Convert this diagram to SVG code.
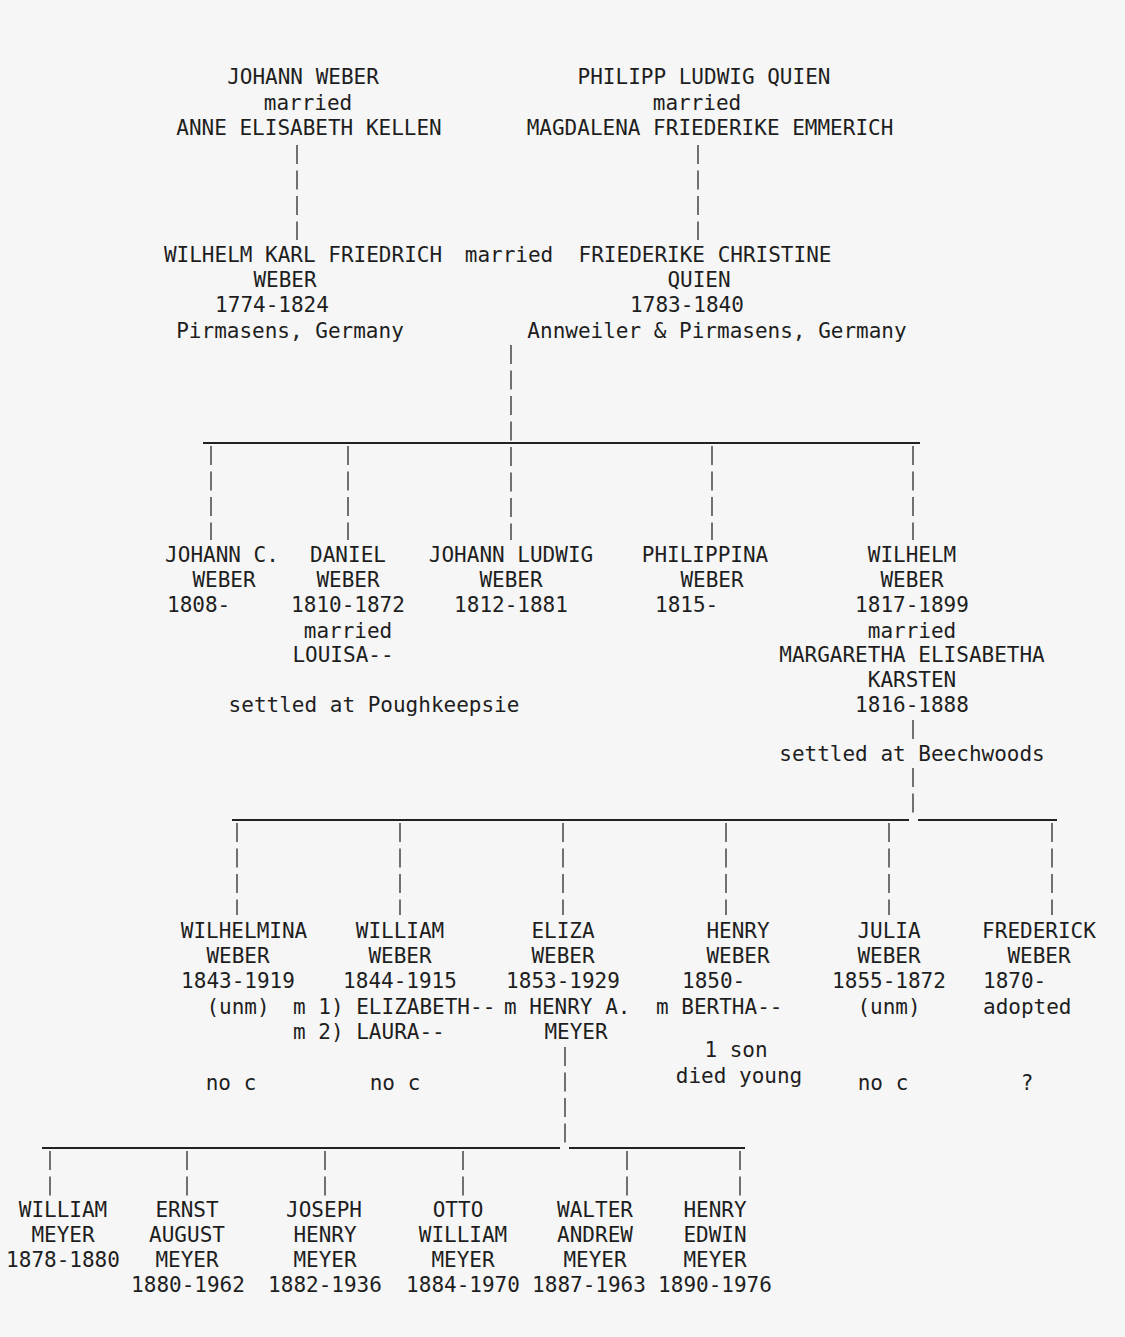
<svg xmlns="http://www.w3.org/2000/svg" width="1125" height="1337" viewBox="0 0 1125 1337">
<style>
text{font-family:"DejaVu Sans Mono","Liberation Mono",monospace;font-size:21px;fill:#1e1e1e;text-anchor:middle}
.s{text-anchor:start}
.v{stroke:#2a2a2a;stroke-width:1.3;stroke-dasharray:19 6.5;fill:none}
.h{stroke:#222;stroke-width:2;fill:none}
</style>
<rect width="1125" height="1337" fill="#f6f6f6"/>
<g id="connectors">
<line class="v" x1="297" y1="145" x2="297" y2="240"/>
<line class="v" x1="698" y1="145" x2="698" y2="240"/>
<line class="v" x1="511" y1="345" x2="511" y2="540"/>
<line class="h" x1="203" y1="443" x2="920" y2="443"/>
<line class="v" x1="211" y1="446" x2="211" y2="540"/>
<line class="v" x1="348" y1="446" x2="348" y2="540"/>
<line class="v" x1="712" y1="446" x2="712" y2="540"/>
<line class="v" x1="913" y1="446" x2="913" y2="540"/>
<line class="v" x1="913" y1="720" x2="913" y2="740"/>
<line class="v" x1="913" y1="768" x2="913" y2="815"/>
<line class="h" x1="232" y1="820" x2="909" y2="820"/>
<line class="h" x1="918" y1="820" x2="1057" y2="820"/>
<line class="v" x1="237" y1="823" x2="237" y2="915"/>
<line class="v" x1="400" y1="823" x2="400" y2="915"/>
<line class="v" x1="563" y1="823" x2="563" y2="915"/>
<line class="v" x1="726" y1="823" x2="726" y2="915"/>
<line class="v" x1="889" y1="823" x2="889" y2="915"/>
<line class="v" x1="1052" y1="823" x2="1052" y2="915"/>
<line class="v" x1="565" y1="1047" x2="565" y2="1145"/>
<line class="h" x1="42" y1="1148" x2="560" y2="1148"/>
<line class="h" x1="569" y1="1148" x2="745" y2="1148"/>
<line class="v" x1="50" y1="1151" x2="50" y2="1196"/>
<line class="v" x1="187" y1="1151" x2="187" y2="1196"/>
<line class="v" x1="325" y1="1151" x2="325" y2="1196"/>
<line class="v" x1="463" y1="1151" x2="463" y2="1196"/>
<line class="v" x1="627" y1="1151" x2="627" y2="1196"/>
<line class="v" x1="740" y1="1151" x2="740" y2="1196"/>
</g>
<g id="johann-weber-couple">
<text x="303" y="84">JOHANN WEBER</text>
<text x="308" y="110">married</text>
<text x="309" y="135">ANNE ELISABETH KELLEN</text>
</g>
<g id="quien-couple">
<text x="704" y="84">PHILIPP LUDWIG QUIEN</text>
<text x="697" y="110">married</text>
<text x="710" y="135">MAGDALENA FRIEDERIKE EMMERICH</text>
</g>
<g id="wilhelm-karl-friedrich">
<text x="303" y="262">WILHELM KARL FRIEDRICH</text>
<text x="285" y="287">WEBER</text>
<text x="272" y="312">1774-1824</text>
<text x="290" y="338">Pirmasens, Germany</text>
</g>
<g id="marriage-label">
<text x="509" y="262">married</text>
</g>
<g id="friederike-christine">
<text x="705" y="262">FRIEDERIKE CHRISTINE</text>
<text x="699" y="287">QUIEN</text>
<text x="687" y="312">1783-1840</text>
<text x="717" y="338">Annweiler &amp; Pirmasens, Germany</text>
</g>
<g id="johann-c">
<text x="222" y="562">JOHANN C.</text>
<text x="224" y="587">WEBER</text>
<text class="s" x="167" y="612">1808-</text>
</g>
<g id="daniel">
<text x="348" y="562">DANIEL</text>
<text x="348" y="587">WEBER</text>
<text x="348" y="612">1810-1872</text>
<text x="348" y="638">married</text>
<text x="343" y="662">LOUISA--</text>
<text x="374" y="712">settled at Poughkeepsie</text>
</g>
<g id="johann-ludwig">
<text x="511" y="562">JOHANN LUDWIG</text>
<text x="511" y="587">WEBER</text>
<text x="511" y="612">1812-1881</text>
</g>
<g id="philippina">
<text x="705" y="562">PHILIPPINA</text>
<text x="712" y="587">WEBER</text>
<text class="s" x="655" y="612">1815-</text>
</g>
<g id="wilhelm">
<text x="912" y="562">WILHELM</text>
<text x="912" y="587">WEBER</text>
<text x="912" y="612">1817-1899</text>
<text x="912" y="638">married</text>
<text x="912" y="662">MARGARETHA ELISABETHA</text>
<text x="912" y="687">KARSTEN</text>
<text x="912" y="712">1816-1888</text>
<text x="912" y="761">settled at Beechwoods</text>
</g>
<g id="wilhelmina">
<text x="244" y="938">WILHELMINA</text>
<text x="238" y="963">WEBER</text>
<text x="238" y="988">1843-1919</text>
<text x="238" y="1014">(unm)</text>
<text x="231" y="1090">no c</text>
</g>
<g id="william">
<text x="400" y="938">WILLIAM</text>
<text x="400" y="963">WEBER</text>
<text x="400" y="988">1844-1915</text>
<text class="s" x="293" y="1014">m 1) ELIZABETH--</text>
<text class="s" x="293" y="1039">m 2) LAURA--</text>
<text x="395" y="1090">no c</text>
</g>
<g id="eliza">
<text x="563" y="938">ELIZA</text>
<text x="563" y="963">WEBER</text>
<text x="563" y="988">1853-1929</text>
<text class="s" x="504" y="1014">m HENRY A.</text>
<text x="576" y="1039">MEYER</text>
</g>
<g id="henry">
<text x="738" y="938">HENRY</text>
<text x="738" y="963">WEBER</text>
<text class="s" x="682" y="988">1850-</text>
<text class="s" x="656" y="1014">m BERTHA--</text>
<text x="736" y="1057">1 son</text>
<text x="739" y="1083">died young</text>
</g>
<g id="julia">
<text x="889" y="938">JULIA</text>
<text x="889" y="963">WEBER</text>
<text x="889" y="988">1855-1872</text>
<text x="889" y="1014">(unm)</text>
<text x="883" y="1090">no c</text>
</g>
<g id="frederick">
<text x="1039" y="938">FREDERICK</text>
<text x="1039" y="963">WEBER</text>
<text class="s" x="983" y="988">1870-</text>
<text class="s" x="983" y="1014">adopted</text>
<text x="1027" y="1090">?</text>
</g>
<g id="william-meyer">
<text x="63" y="1217">WILLIAM</text>
<text x="63" y="1242">MEYER</text>
<text x="63" y="1267">1878-1880</text>
</g>
<g id="ernst-august-meyer">
<text x="187" y="1217">ERNST</text>
<text x="187" y="1242">AUGUST</text>
<text x="187" y="1267">MEYER</text>
<text x="188" y="1292">1880-1962</text>
</g>
<g id="joseph-henry-meyer">
<text x="324" y="1217">JOSEPH</text>
<text x="325" y="1242">HENRY</text>
<text x="325" y="1267">MEYER</text>
<text x="325" y="1292">1882-1936</text>
</g>
<g id="otto-william-meyer">
<text x="458" y="1217">OTTO</text>
<text x="463" y="1242">WILLIAM</text>
<text x="463" y="1267">MEYER</text>
<text x="463" y="1292">1884-1970</text>
</g>
<g id="walter-andrew-meyer">
<text x="595" y="1217">WALTER</text>
<text x="595" y="1242">ANDREW</text>
<text x="595" y="1267">MEYER</text>
<text x="589" y="1292">1887-1963</text>
</g>
<g id="henry-edwin-meyer">
<text x="715" y="1217">HENRY</text>
<text x="715" y="1242">EDWIN</text>
<text x="715" y="1267">MEYER</text>
<text x="715" y="1292">1890-1976</text>
</g>
</svg>
